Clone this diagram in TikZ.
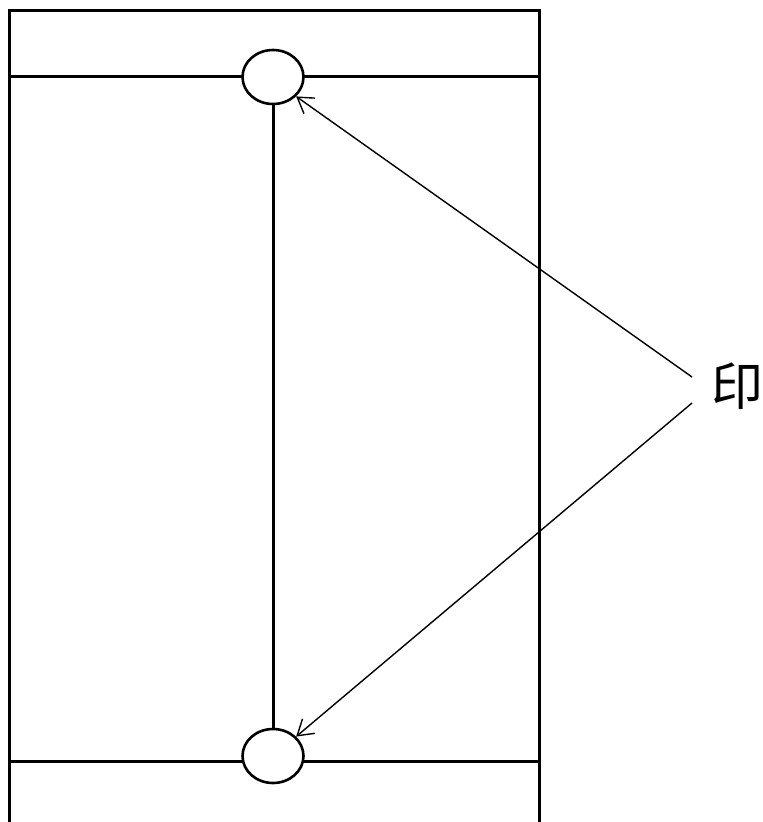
\documentclass[tikz,border=0pt]{standalone}
\usepackage{fontspec}
\newfontfamily\cjk{Noto Sans CJK SC}
\usetikzlibrary{positioning, arrows.meta, shapes.geometric}

\begin{document}
\begin{tikzpicture}[
    x=1pt, y=-1pt,
    >={Straight Barb[length=15pt,width=19pt]},
    thickline/.style={line width=3pt},
    joint/.style={draw, ellipse, line width=2.6pt, fill=white,
                  minimum width=61pt, minimum height=54pt, inner sep=0pt},
    pointer/.style={->, line width=1.4pt},
    lbl/.style={font=\cjk\fontsize{52}{52}\selectfont, inner sep=0pt}
]
\useasboundingbox (0,0) rectangle (763,822);

% ---- frame ----
\draw[thickline] (9,830) -- (9,10) -- (539,10) -- (539,830);
\coordinate (tl) at (9,76);
\coordinate (tr) at (539,76);
\coordinate (bl) at (9,761);
\coordinate (br) at (539,761);
\draw[thickline] (tl) -- (tr);
\draw[thickline] (bl) -- (br);

% ---- joints ----
\node[joint] (jtop) at (273,77) {};
\node[joint] (jbot) at (273,756) {};
\draw[thickline] (jtop.south) -- (jbot.north);

% ---- label ----
\node[lbl] (yin) at (737,386) {印};
\coordinate (ya) at (692,377);
\coordinate (yb) at (692,403);
\draw[pointer] (ya) -- (jtop.-40);
\draw[pointer] (yb) -- (jbot.40);
\end{tikzpicture}
\end{document}
